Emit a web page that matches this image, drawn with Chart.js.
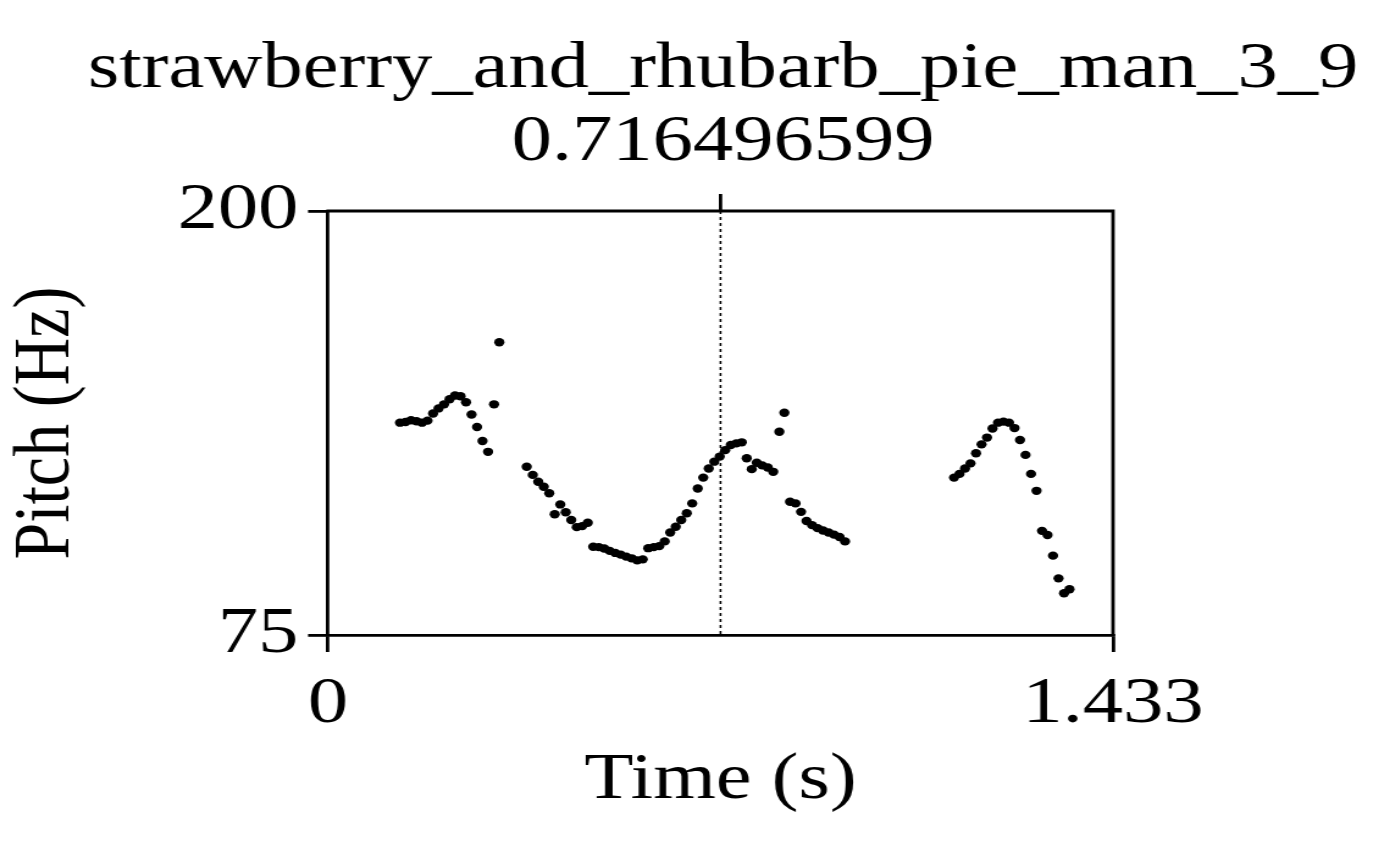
<!DOCTYPE html>
<html><head><meta charset="utf-8">
<script src="https://cdn.jsdelivr.net/npm/chart.js@4/dist/chart.umd.min.js"></script>
<style>
html,body{margin:0;padding:0;background:#fff;overflow:hidden;}
/* the reference picture is horizontally stretched: draw at 1125 px wide and stretch to 1373 */
#c{display:block;transform:scaleX(1.2204);transform-origin:0 0;}
</style>
</head><body>
<canvas id="c" width="1125" height="841"></canvas>
<script>
const titleLines = ['strawberry_and_rhubarb_pie_man_3_9', '0.716496599'];
const cursorTime = 0.716496599;
const xMin = 0, xMax = 1.433;
const yMin = 75, yMax = 200;
const xTickValues = [0, 1.433];
const xTickLabels = ['0', '1.433'];
const yTickValues = [75, 200];
const yTickLabels = ['75', '200'];
const xAxisTitle = 'Time (s)';
const yAxisTitle = 'Pitch (Hz)';

const timeS = [
  0.1314,0.1415,0.1515,0.1616,0.1716,0.1816,0.1917,0.2017,0.2118,0.2218,0.2318,0.2419,0.2519,0.2620,0.2720,0.2820,0.2921,0.3030,0.3127,
  0.3627,0.3737,0.3837,0.3938,0.4038,0.4138,0.4239,0.4339,0.4440,0.4540,0.4640,0.4741,0.4841,0.4942,0.5042,0.5142,0.5243,0.5343,0.5444,0.5544,
  0.5644,0.5745,0.5845,0.5946,0.6046,0.6146,0.6247,0.6347,0.6448,0.6548,0.6648,0.6749,0.6849,0.6950,0.7050,0.7150,0.7251,0.7351,0.7452,0.7552,
  0.7643,0.7735,0.7826,0.7926,0.8027,0.8127,0.8239,0.8330,
  0.8434,0.8534,0.8635,0.8735,0.8835,0.8936,0.9036,0.9137,0.9237,0.9337,0.9438,
  1.1428,1.1528,1.1628,1.1729,1.1829,1.1930,1.2030,1.2130,1.2231,1.2331,1.2432,1.2532,1.2632,1.2733,1.2833,1.2934,1.3034,1.3134,1.3235,1.3335,1.3436,1.3536
];
const pitchHz = [
  137.6,137.8,138.3,138.0,137.6,138.2,140.3,141.8,143.0,144.5,145.6,145.4,143.6,140.0,136.3,132.2,129.0,143.0,161.3,
  124.6,122.2,120.2,118.7,116.8,110.6,113.5,111.2,108.9,106.8,107.1,108.1,101.0,100.9,100.5,99.8,99.2,98.7,98.1,97.6,
  97.0,97.3,100.6,100.9,101.2,102.6,105.2,106.9,108.9,110.9,113.8,118.2,121.4,124.1,126.1,127.6,129.5,131.0,131.5,131.8,
  127.1,123.9,125.8,125.0,124.4,123.1,134.9,140.5,
  114.3,113.8,111.3,108.6,107.4,106.5,105.8,105.2,104.6,103.9,102.6,
  121.4,122.5,124.1,125.6,128.6,131.2,133.2,135.9,137.6,137.9,137.6,136.0,132.5,128.1,122.5,117.5,105.7,104.5,98.4,91.7,87.3,88.5
];

const FONT = 'Liberation Serif, Times New Roman, serif';
const FS = 66;

const framePlugin = {
  id: 'praatFrame',
  beforeDatasetsDraw(chart) {
    const {ctx, chartArea: a, scales: {x}} = chart;
    const cx = x.getPixelForValue(cursorTime);
    ctx.save();
    ctx.strokeStyle = '#000';
    ctx.lineWidth = 1.6;
    ctx.setLineDash([3, 3]);
    ctx.beginPath();
    ctx.moveTo(cx, a.top);
    ctx.lineTo(cx, a.bottom);
    ctx.stroke();
    ctx.restore();
  },
  afterDraw(chart) {
    const {ctx, chartArea: a, scales: {x}} = chart;
    const cx = x.getPixelForValue(cursorTime);
    ctx.save();
    ctx.strokeStyle = '#000';
    ctx.lineWidth = 2.8;
    ctx.beginPath();
    ctx.moveTo(a.left - 1.4, a.top);
    ctx.lineTo(a.right, a.top);
    ctx.lineTo(a.right, a.bottom + 1.4);
    ctx.stroke();
    ctx.beginPath();
    ctx.moveTo(cx, a.top);
    ctx.lineTo(cx, a.top - 17);
    ctx.stroke();
    ctx.restore();
  }
};

new Chart(document.getElementById('c'), {
  type: 'scatter',
  data: {
    datasets: [{
      data: timeS.map((t, i) => ({x: t, y: pitchHz[i]})),
      pointRadius: 4.2,
      pointHoverRadius: 4.2,
      backgroundColor: '#000',
      borderWidth: 0
    }]
  },
  options: {
    responsive: false,
    animation: false,
    events: [],
    layout: {padding: {left: 60, right: 0, top: 0, bottom: 0}},
    plugins: {
      legend: {display: false},
      tooltip: {enabled: false},
      title: {
        display: true,
        text: titleLines,
        color: '#000',
        font: {family: FONT, size: FS, weight: 'normal', lineHeight: 73 / FS},
        padding: {top: 33, bottom: 32}
      }
    },
    scales: {
      x: {
        type: 'linear',
        min: xMin, max: xMax,
        afterFit(s) { s.height = 206; },
        afterBuildTicks(s) { s.ticks = xTickValues.map(v => ({value: v})); },
        ticks: {
          color: '#000',
          font: {family: FONT, size: FS},
          padding: 13,
          maxRotation: 0,
          autoSkip: false,
          callback: (v) => xTickLabels[xTickValues.indexOf(v)]
        },
        grid: {display: true, drawOnChartArea: false, drawTicks: true, tickLength: 17, color: '#000', lineWidth: 2.8},
        border: {display: true, color: '#000', width: 2.8},
        title: {
          display: true, text: xAxisTitle, color: '#000',
          font: {family: FONT, size: FS, lineHeight: 1},
          padding: {top: 0, bottom: 27}
        }
      },
      y: {
        type: 'linear',
        position: 'left',
        min: yMin, max: yMax,
        afterFit(s) { s.width = 208.8; },
        afterBuildTicks(s) { s.ticks = yTickValues.map(v => ({value: v})); },
        ticks: {
          color: '#000',
          font: {family: FONT, size: FS},
          padding: 8,
          autoSkip: false,
          callback: (v) => yTickLabels[yTickValues.indexOf(v)]
        },
        grid: {display: true, drawOnChartArea: false, drawTicks: true, tickLength: 16.4, color: '#000', lineWidth: 2.8},
        border: {display: true, color: '#000', width: 2.8},
        title: {
          display: true, text: yAxisTitle, color: '#000',
          font: {family: FONT, size: FS, lineHeight: 1},
          padding: {top: -54, bottom: 0}
        }
      },
      yRight: {
        type: 'linear',
        position: 'right',
        min: yMin, max: yMax,
        display: true,
        afterFit(s) { s.width = 213; },
        ticks: {display: false},
        grid: {display: false},
        border: {display: false},
        title: {display: false}
      }
    }
  },
  plugins: [framePlugin]
});
</script>
</body></html>
